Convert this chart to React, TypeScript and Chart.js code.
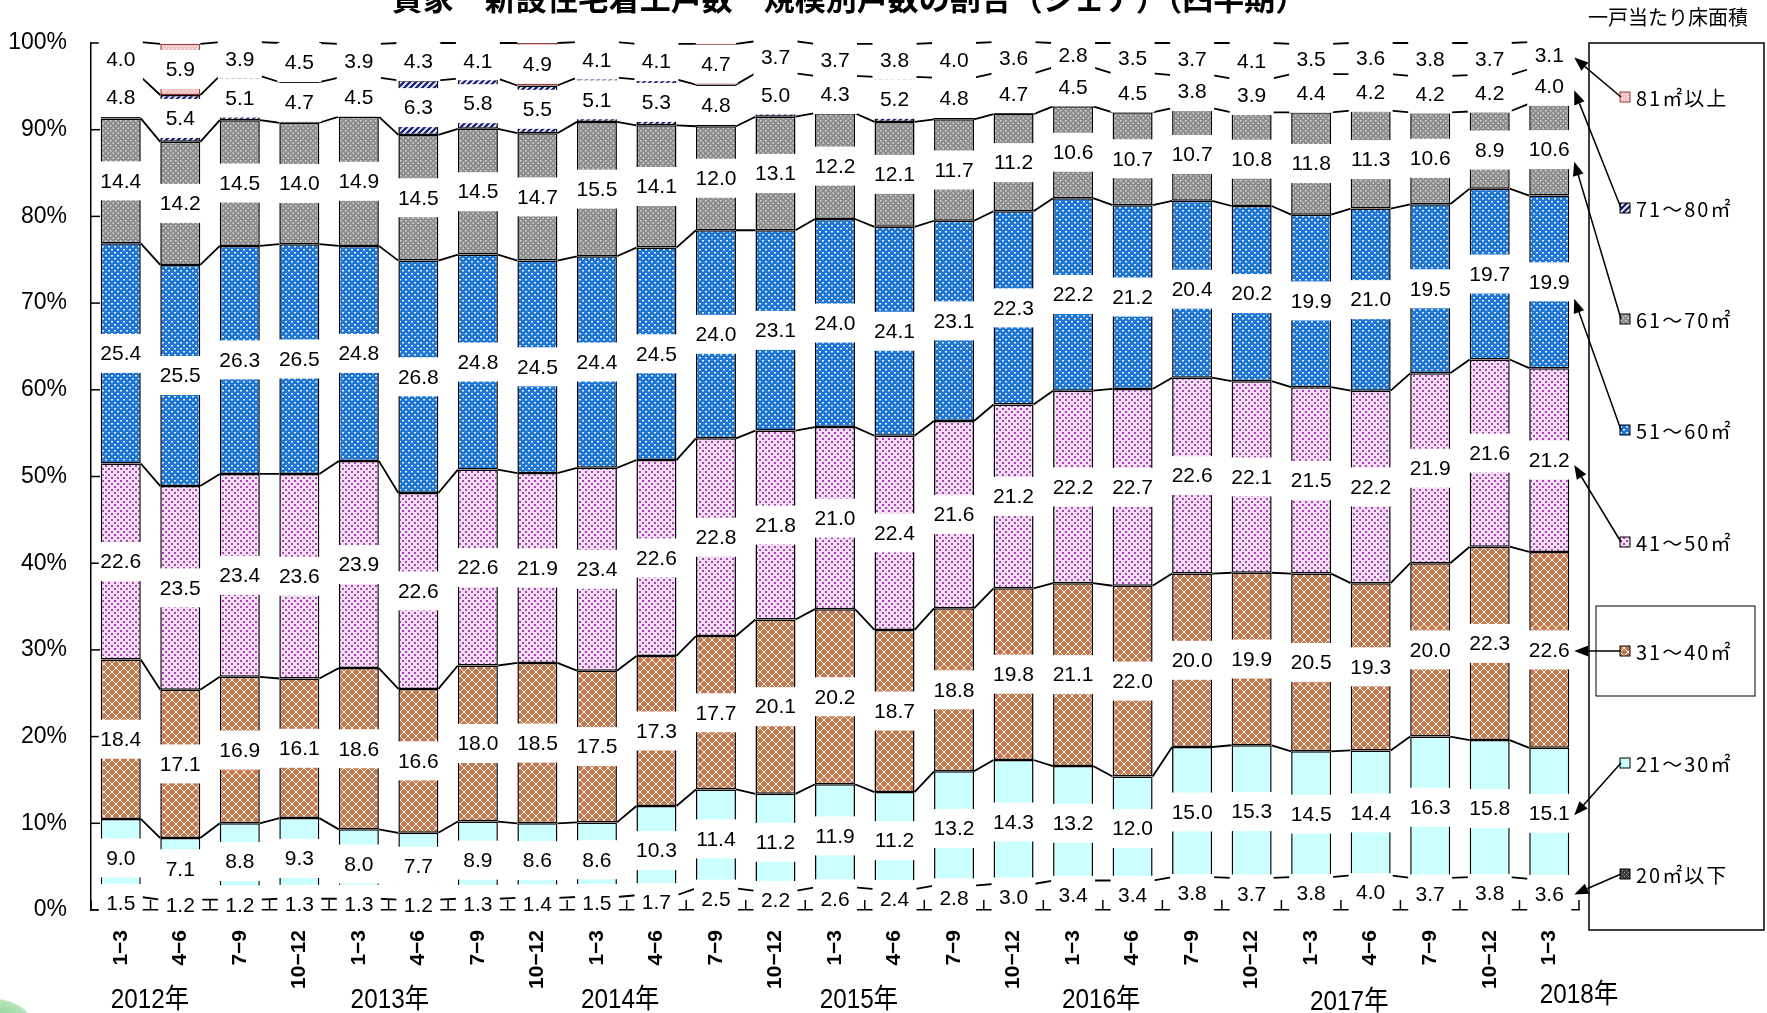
import { useEffect, useRef } from 'react';
import { Chart, registerables } from 'chart.js';

Chart.register(...registerables);

const CANVAS_W = 1767;
const CANVAS_H = 1013;

const titleText = '貸家　新設住宅着工戸数　規模別戸数の割合（シェア）（四半期）';
const legendTitle = '一戸当たり床面積';

// Quarter tick labels, 2012 Q1 to 2018 Q1
const quarterLabels = [
  '1−3', '4−6', '7−9', '10−12',
  '1−3', '4−6', '7−9', '10−12',
  '1−3', '4−6', '7−9', '10−12',
  '1−3', '4−6', '7−9', '10−12',
  '1−3', '4−6', '7−9', '10−12',
  '1−3', '4−6', '7−9', '10−12',
  '1−3',
];
const yearLabels = ['2012年', '2013年', '2014年', '2015年', '2016年', '2017年', '2018年'];

// Floor-area classes, bottom of the stack first
const sizeClasses = ['20㎡以下', '21～30㎡', '31～40㎡', '41～50㎡', '51～60㎡', '61～70㎡', '71～80㎡', '81㎡以上'];

// Share of units (%) per quarter
const share20 = [1.5, 1.2, 1.2, 1.3, 1.3, 1.2, 1.3, 1.4, 1.5, 1.7, 2.5, 2.2, 2.6, 2.4, 2.8, 3.0, 3.4, 3.4, 3.8, 3.7, 3.8, 4.0, 3.7, 3.8, 3.6];
const share21to30 = [9.0, 7.1, 8.8, 9.3, 8.0, 7.7, 8.9, 8.6, 8.6, 10.3, 11.4, 11.2, 11.9, 11.2, 13.2, 14.3, 13.2, 12.0, 15.0, 15.3, 14.5, 14.4, 16.3, 15.8, 15.1];
const share31to40 = [18.4, 17.1, 16.9, 16.1, 18.6, 16.6, 18.0, 18.5, 17.5, 17.3, 17.7, 20.1, 20.2, 18.7, 18.8, 19.8, 21.1, 22.0, 20.0, 19.9, 20.5, 19.3, 20.0, 22.3, 22.6];
const share41to50 = [22.6, 23.5, 23.4, 23.6, 23.9, 22.6, 22.6, 21.9, 23.4, 22.6, 22.8, 21.8, 21.0, 22.4, 21.6, 21.2, 22.2, 22.7, 22.6, 22.1, 21.5, 22.2, 21.9, 21.6, 21.2];
const share51to60 = [25.4, 25.5, 26.3, 26.5, 24.8, 26.8, 24.8, 24.5, 24.4, 24.5, 24.0, 23.1, 24.0, 24.1, 23.1, 22.3, 22.2, 21.2, 20.4, 20.2, 19.9, 21.0, 19.5, 19.7, 19.9];
const share61to70 = [14.4, 14.2, 14.5, 14.0, 14.9, 14.5, 14.5, 14.7, 15.5, 14.1, 12.0, 13.1, 12.2, 12.1, 11.7, 11.2, 10.6, 10.7, 10.7, 10.8, 11.8, 11.3, 10.6, 8.9, 10.6];
const share71to80 = [4.8, 5.4, 5.1, 4.7, 4.5, 6.3, 5.8, 5.5, 5.1, 5.3, 4.8, 5.0, 4.3, 5.2, 4.8, 4.7, 4.5, 4.5, 3.8, 3.9, 4.4, 4.2, 4.2, 4.2, 4.0];
const share81 = [4.0, 5.9, 3.9, 4.5, 3.9, 4.3, 4.1, 4.9, 4.1, 4.1, 4.7, 3.7, 3.7, 3.8, 4.0, 3.6, 2.8, 3.5, 3.7, 4.1, 3.5, 3.6, 3.8, 3.7, 3.1];

const seriesValues = [share20, share21to30, share31to40, share41to50, share51to60, share61to70, share71to80, share81];

// Layout of the annotation pieces (pixels / category index units)
const yearPos = [0.49, 4.52, 8.39, 12.4, 16.47, 20.64, 24.5];
const yearY = [1001, 1001, 1001, 1001, 1001, 1003, 996];
const legendItemY = [874, 763, 651, 542, 430, 319, 208, 97];
const arrowTipOffset = [0, 2, 1, 5, 17, 12, 4, 2];

function makePattern(size: number, draw: (c: CanvasRenderingContext2D) => void): CanvasPattern {
  const cv = document.createElement('canvas');
  cv.width = size;
  cv.height = size;
  const c = cv.getContext('2d')!;
  draw(c);
  return c.createPattern(cv, 'repeat')!;
}

function buildPatterns(): (CanvasPattern | string)[] {
  const p20 = makePattern(4, (c) => {
    c.fillStyle = '#3c3c3c';
    c.fillRect(0, 0, 4, 4);
    c.fillStyle = '#a0a0a0';
    c.fillRect(0, 0, 1, 1);
    c.fillRect(2, 2, 1, 1);
  });
  const p21 = '#ccffff';
  const p31 = makePattern(8, (c) => {
    c.fillStyle = '#c4784e';
    c.fillRect(0, 0, 8, 8);
    c.strokeStyle = 'rgba(255,255,255,0.95)';
    c.lineWidth = 1;
    c.beginPath();
    c.moveTo(-1, -1); c.lineTo(9, 9);
    c.moveTo(9, -1); c.lineTo(-1, 9);
    c.stroke();
  });
  const p41 = makePattern(6, (c) => {
    c.fillStyle = '#f3def3';
    c.fillRect(0, 0, 6, 6);
    c.fillStyle = '#a842b2';
    c.fillRect(0, 0, 2, 2);
    c.fillRect(3, 3, 2, 2);
  });
  const p51 = makePattern(6, (c) => {
    c.fillStyle = '#1f76d4';
    c.fillRect(0, 0, 6, 6);
    c.fillStyle = 'rgba(255,255,255,0.9)';
    c.fillRect(0, 0, 2, 1.5);
    c.fillRect(3, 3, 2, 1.5);
  });
  const p61 = makePattern(5, (c) => {
    c.fillStyle = '#8e8e8e';
    c.fillRect(0, 0, 5, 5);
    c.fillStyle = '#d6d6d6';
    c.fillRect(0, 0, 1.5, 1.5);
    c.fillRect(2.5, 2.5, 1.5, 1.5);
  });
  const p71 = makePattern(6, (c) => {
    c.fillStyle = '#ffffff';
    c.fillRect(0, 0, 6, 6);
    c.strokeStyle = '#1e2478';
    c.lineWidth = 2.5;
    c.beginPath();
    c.moveTo(-1, 7); c.lineTo(7, -1);
    c.moveTo(-4, 4); c.lineTo(4, -4);
    c.moveTo(2, 10); c.lineTo(10, 2);
    c.stroke();
  });
  const p81 = makePattern(4, (c) => {
    c.fillStyle = '#f2c2c2';
    c.fillRect(0, 0, 4, 4);
    c.fillStyle = '#ffffff';
    c.fillRect(0, 0, 1, 1);
    c.fillRect(2, 2, 1, 1);
  });
  return [p20, p21, p31, p41, p51, p61, p71, p81];
}

function drawArrow(ctx: CanvasRenderingContext2D, x0: number, y0: number, x1: number, y1: number) {
  const ang = Math.atan2(y1 - y0, x1 - x0);
  const len = 14;
  const hw = 5.5;
  const bx = x1 - len * Math.cos(ang);
  const by = y1 - len * Math.sin(ang);
  ctx.beginPath();
  ctx.moveTo(x0, y0);
  ctx.lineTo(bx, by);
  ctx.stroke();
  ctx.beginPath();
  ctx.moveTo(x1, y1);
  ctx.lineTo(bx - hw * Math.sin(ang), by + hw * Math.cos(ang));
  ctx.lineTo(bx + hw * Math.sin(ang), by - hw * Math.cos(ang));
  ctx.closePath();
  ctx.fill();
}

export default function App() {
  const ref = useRef<HTMLCanvasElement>(null);

  useEffect(() => {
    const canvas = ref.current;
    if (!canvas) return;
    const patterns = buildPatterns();
    const borderColors = ['#000', '#000', '#000', '#000', '#000', '#000', '#000', '#9a3a3a'];

    const overlay = {
      id: 'shareOverlay',
      beforeDatasetsDraw(chart: any) {
        const { ctx, chartArea: a, scales } = chart;
        const x = scales.x;
        const y = scales.y;
        ctx.save();
        ctx.strokeStyle = '#000';
        ctx.lineWidth = 1.5;
        // value-axis ticks pointing inward
        for (let v = 0; v <= 100; v += 10) {
          const py = y.getPixelForValue(v);
          ctx.beginPath();
          ctx.moveTo(a.left, py);
          ctx.lineTo(a.left + 9, py);
          ctx.stroke();
        }
        // category boundary ticks pointing up
        for (let i = 0; i <= quarterLabels.length; i++) {
          const px = x.getPixelForValue(i - 0.5);
          ctx.beginPath();
          ctx.moveTo(px, a.bottom);
          ctx.lineTo(px, a.bottom - 10);
          ctx.stroke();
        }
        ctx.restore();
      },
      afterDatasetsDraw(chart: any) {
        const { ctx } = chart;
        const n = quarterLabels.length;
        ctx.save();
        // series lines joining the segment tops of neighbouring bars
        ctx.strokeStyle = '#000';
        ctx.lineWidth = 1.8;
        for (let k = 0; k < seriesValues.length; k++) {
          const els = chart.getDatasetMeta(k).data;
          ctx.beginPath();
          for (let i = 0; i < n - 1; i++) {
            const e0 = els[i];
            const e1 = els[i + 1];
            ctx.moveTo(e0.x + e0.width / 2, e0.y);
            ctx.lineTo(e1.x - e1.width / 2, e1.y);
          }
          ctx.stroke();
        }
        // value labels on white boxes
        ctx.textAlign = 'center';
        ctx.textBaseline = 'middle';
        ctx.font = '21px "Liberation Sans", Arial, sans-serif';
        for (let k = 0; k < seriesValues.length; k++) {
          const els = chart.getDatasetMeta(k).data;
          for (let i = 0; i < n; i++) {
            const e = els[i];
            const cy = (e.y + e.base) / 2;
            const bw = e.width + 4;
            ctx.fillStyle = '#fff';
            ctx.fillRect(e.x - bw / 2, cy - 19.5, bw, 39);
            ctx.fillStyle = '#000';
            ctx.fillText(seriesValues[k][i].toFixed(1), e.x, cy + 1);
          }
        }
        ctx.restore();
      },
      afterDraw(chart: any) {
        const { ctx, scales } = chart;
        const x = scales.x;
        const n = quarterLabels.length;
        ctx.save();

        // title (runs off the top edge)
        ctx.fillStyle = '#000';
        ctx.textAlign = 'center';
        ctx.textBaseline = 'middle';
        ctx.font = 'bold 31px "Noto Sans CJK JP", sans-serif';
        ctx.fillText(titleText, 849, -2);

        // year labels
        ctx.font = '27px "Liberation Sans", "Noto Sans CJK JP", sans-serif';
        for (let j = 0; j < yearLabels.length; j++) {
          const px = x.getPixelForValue(yearPos[j]);
          ctx.save();
          ctx.translate(px, yearY[j]);
          ctx.scale(0.9, 1);
          ctx.fillText(yearLabels[j], 0, 0);
          ctx.restore();
        }

        // legend heading and frame
        ctx.font = '20px "Noto Sans CJK JP", sans-serif';
        ctx.fillText(legendTitle, 1668, 17);
        ctx.strokeStyle = '#000';
        ctx.lineWidth = 1.5;
        ctx.strokeRect(1589, 43, 175, 887);
        ctx.lineWidth = 1;
        ctx.strokeRect(1596, 606, 159, 90);

        // legend entries
        ctx.textAlign = 'left';
        ctx.font = '20px "Noto Sans CJK JP", sans-serif';
        (ctx as any).letterSpacing = '2px';
        for (let k = 0; k < sizeClasses.length; k++) {
          const ly = legendItemY[k];
          ctx.fillStyle = patterns[k] as any;
          ctx.fillRect(1620, ly - 5, 10, 10);
          ctx.strokeStyle = borderColors[k];
          ctx.lineWidth = 1;
          ctx.strokeRect(1620, ly - 5, 10, 10);
          ctx.fillStyle = '#000';
          ctx.fillText(sizeClasses[k], 1636, ly + 1);
        }
        (ctx as any).letterSpacing = '0px';

        // arrows from legend entries to the last bar
        ctx.strokeStyle = '#000';
        ctx.fillStyle = '#000';
        ctx.lineWidth = 1.5;
        for (let k = 0; k < sizeClasses.length; k++) {
          const e = chart.getDatasetMeta(k).data[n - 1];
          const tipX = e.x + e.width / 2 + 5;
          const tipY = (e.y + e.base) / 2 + arrowTipOffset[k];
          drawArrow(ctx, 1621, legendItemY[k], tipX, tipY);
        }

        // corner decoration
        const g = ctx.createRadialGradient(-5, 1045, 10, -5, 1045, 46);
        g.addColorStop(0, '#5fbf6a');
        g.addColorStop(1, '#b9e5bd');
        ctx.fillStyle = g;
        ctx.beginPath();
        ctx.arc(-5, 1045, 46, 0, Math.PI * 2);
        ctx.fill();

        ctx.restore();
      },
    };

    const chart = new Chart(canvas, {
      type: 'bar',
      data: {
        labels: quarterLabels,
        datasets: seriesValues.map((vals, k) => ({
          label: sizeClasses[k],
          data: vals,
          backgroundColor: patterns[k] as any,
          borderColor: borderColors[k],
          borderWidth: 1.5,
          borderSkipped: false,
          barPercentage: 0.672,
          categoryPercentage: 1,
        })),
      },
      options: {
        responsive: false,
        animation: false,
        devicePixelRatio: 1,
        layout: { padding: { left: 0, right: 188, top: 43, bottom: 0 } },
        plugins: {
          legend: { display: false },
          tooltip: { enabled: false },
        },
        scales: {
          x: {
            stacked: true,
            grid: { display: false, drawTicks: false },
            border: { display: true, color: '#000', width: 1.5 },
            ticks: {
              color: '#000',
              font: { family: '"Liberation Sans", Arial, sans-serif', size: 21, weight: 'bold' },
              minRotation: 90,
              maxRotation: 90,
              padding: 20,
              autoSkip: false,
            },
            afterFit: (s: any) => {
              s.height = 103;
            },
          },
          y: {
            stacked: true,
            min: 0,
            max: 100,
            grid: { display: false, drawTicks: false },
            border: { display: true, color: '#000', width: 1.5 },
            ticks: {
              stepSize: 10,
              color: '#000',
              font: { family: '"Liberation Sans", Arial, sans-serif', size: 23 },
              padding: 24,
              callback: (v: any) => `${v}%`,
            },
            afterFit: (s: any) => {
              s.width = 91;
            },
          },
        },
      },
      plugins: [overlay as any],
    });

    return () => {
      chart.destroy();
    };
  }, []);

  return (
    <div style={{ position: 'absolute', left: 0, top: 0, width: CANVAS_W, height: CANVAS_H, background: '#fff' }}>
      <canvas ref={ref} width={CANVAS_W} height={CANVAS_H} style={{ display: 'block', width: CANVAS_W, height: CANVAS_H }} />
    </div>
  );
}
